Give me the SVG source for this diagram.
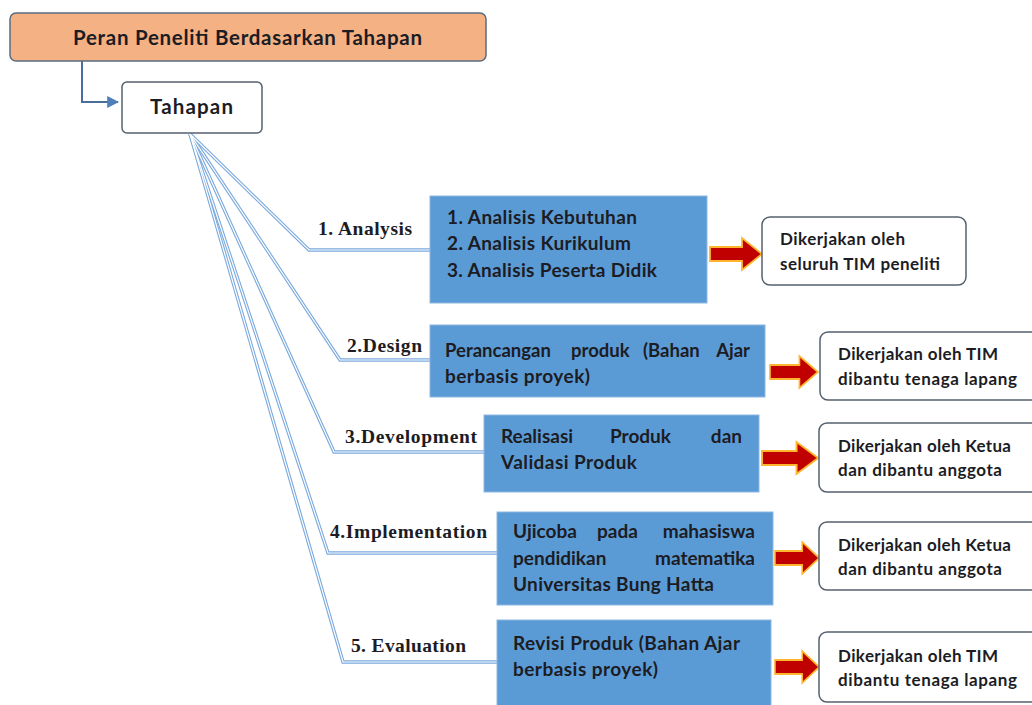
<svg xmlns="http://www.w3.org/2000/svg" width="1032" height="705" viewBox="0 0 1032 705">
<style>
.sans{font-family:Lato,"Open Sans","Liberation Sans",sans-serif;font-weight:bold;fill:#1c1c24}
.serif{font-family:"Liberation Serif","DejaVu Serif",serif;font-weight:bold;fill:#1c1c24;font-size:19.5px}
.blue{fill:#5B9BD5;stroke:#8DB6E2;stroke-width:1}
.wbox{fill:#ffffff;stroke:#55606E;stroke-width:1.5}
.fanOuter{fill:none;stroke:#7AA9DD;stroke-width:3.4}
.fanInner{fill:none;stroke:#ffffff;stroke-width:1.2}
.rarrow{fill:#C00000;stroke:#FFB52E;stroke-width:1.8;stroke-linejoin:miter}
.bt{font-size:19px}
.wt{font-size:17px}
</style>
<defs>
<marker id="ah" viewBox="0 0 10 10" refX="9" refY="5" markerWidth="6" markerHeight="6" orient="auto">
<path d="M0,0 L10,5 L0,10 z" fill="#4F7FB8"/>
</marker>
<path id="redArrow" d="M0,-7 L32,-7 L32,-16 L52,0 L32,16 L32,7 L0,7 z"/>
</defs>

<g id="connectors">
<path d="M82,61 L82,102 L118,102" fill="none" stroke="#4A6E9A" stroke-width="2" marker-end="url(#ah)"/>
<g class="fanOuter">
<path d="M190,134 L309,250 L430,250"/>
<path d="M190,134 L340,360 L430,360"/>
<path d="M190,134 L334,452 L484,452"/>
<path d="M190,134 L328,553 L497,553"/>
<path d="M190,134 L343,662 L497,662"/>
</g>
<g class="fanInner">
<path d="M190,134 L309,250 L430,250"/>
<path d="M190,134 L340,360 L430,360"/>
<path d="M190,134 L334,452 L484,452"/>
<path d="M190,134 L328,553 L497,553"/>
<path d="M190,134 L343,662 L497,662"/>
</g>
<use href="#redArrow" class="rarrow" transform="translate(710,254)"/>
<use href="#redArrow" class="rarrow" transform="translate(770,372) scale(0.92,1)"/>
<use href="#redArrow" class="rarrow" transform="translate(762,458) scale(1.08,1)"/>
<use href="#redArrow" class="rarrow" transform="translate(775,558) scale(0.85,1)"/>
<use href="#redArrow" class="rarrow" transform="translate(775,667) scale(0.85,1)"/>
</g>

<g id="title">
<rect x="10" y="13" width="476" height="48" rx="6" fill="#F4B183" stroke="#5A6B80" stroke-width="1.5"/>
<text class="sans" x="73" y="45" font-size="20.5" textLength="349" lengthAdjust="spacing">Peran Peneliti Berdasarkan Tahapan</text>
</g>

<g id="tahapan">
<rect x="122" y="82" width="140" height="51" rx="5" class="wbox"/>
<text class="sans" x="150" y="114" font-size="20.5" textLength="83" lengthAdjust="spacing">Tahapan</text>
</g>

<g id="lbl-analysis"><text class="serif" x="318" y="235" textLength="94" lengthAdjust="spacing">1. Analysis</text></g>
<g id="lbl-design"><text class="serif" x="347" y="352" textLength="75" lengthAdjust="spacing">2.Design</text></g>
<g id="lbl-development"><text class="serif" x="345" y="443" textLength="132" lengthAdjust="spacing">3.Development</text></g>
<g id="lbl-implementation"><text class="serif" x="330" y="538" textLength="157" lengthAdjust="spacing">4.Implementation</text></g>
<g id="lbl-evaluation"><text class="serif" x="351" y="652" textLength="115" lengthAdjust="spacing">5. Evaluation</text></g>

<g id="step1">
<rect x="430" y="196" width="277" height="107" class="blue"/>
<text class="sans bt" x="447" y="224" textLength="190" lengthAdjust="spacing">1. Analisis Kebutuhan</text>
<text class="sans bt" x="447" y="250" textLength="184" lengthAdjust="spacing">2. Analisis Kurikulum</text>
<text class="sans bt" x="447" y="277" textLength="210" lengthAdjust="spacing">3. Analisis Peserta Didik</text>
</g>
<g id="step2">
<rect x="430" y="325" width="335" height="72" class="blue"/>
<text class="sans" font-size="18.5" y="357"><tspan x="445">Perancangan</tspan><tspan x="571">produk</tspan><tspan x="643">(Bahan</tspan><tspan x="750" text-anchor="end">Ajar</tspan></text>
<text class="sans bt" x="445" y="383" textLength="145" lengthAdjust="spacing">berbasis proyek)</text>
</g>
<g id="step3">
<rect x="484" y="415" width="275" height="77" class="blue"/>
<text class="sans bt" y="443"><tspan x="501">Realisasi</tspan><tspan x="610">Produk</tspan><tspan x="742" text-anchor="end">dan</tspan></text>
<text class="sans bt" x="501" y="469" textLength="136" lengthAdjust="spacing">Validasi Produk</text>
</g>
<g id="step4">
<rect x="497" y="512" width="276" height="93" class="blue"/>
<text class="sans bt" y="538"><tspan x="513">Ujicoba</tspan><tspan x="597">pada</tspan><tspan x="755" text-anchor="end">mahasiswa</tspan></text>
<text class="sans bt" y="565"><tspan x="513">pendidikan</tspan><tspan x="755" text-anchor="end">matematika</tspan></text>
<text class="sans bt" x="513" y="591" textLength="201" lengthAdjust="spacing">Universitas Bung Hatta</text>
</g>
<g id="step5">
<rect x="497" y="620" width="274" height="90" class="blue"/>
<text class="sans bt" x="513" y="650" textLength="227" lengthAdjust="spacing">Revisi Produk (Bahan Ajar</text>
<text class="sans bt" x="513" y="676" textLength="145" lengthAdjust="spacing">berbasis proyek)</text>
</g>

<g id="role1">
<rect x="762" y="217" width="204" height="68" rx="8" class="wbox"/>
<text class="sans wt" x="780" y="245" textLength="125" lengthAdjust="spacing">Dikerjakan oleh</text>
<text class="sans wt" x="780" y="270" textLength="160" lengthAdjust="spacing">seluruh TIM peneliti</text>
</g>
<g id="role2">
<rect x="820" y="332" width="222" height="68" rx="8" class="wbox"/>
<text class="sans wt" x="838" y="360" textLength="160" lengthAdjust="spacing">Dikerjakan oleh TIM</text>
<text class="sans wt" x="838" y="385" textLength="179" lengthAdjust="spacing">dibantu tenaga lapang</text>
</g>
<g id="role3">
<rect x="819" y="423" width="223" height="69" rx="8" class="wbox"/>
<text class="sans wt" x="838" y="452" textLength="173" lengthAdjust="spacing">Dikerjakan oleh Ketua</text>
<text class="sans wt" x="838" y="476" textLength="164" lengthAdjust="spacing">dan dibantu anggota</text>
</g>
<g id="role4">
<rect x="819" y="522" width="223" height="68" rx="8" class="wbox"/>
<text class="sans wt" x="838" y="551" textLength="173" lengthAdjust="spacing">Dikerjakan oleh Ketua</text>
<text class="sans wt" x="838" y="575" textLength="164" lengthAdjust="spacing">dan dibantu anggota</text>
</g>
<g id="role5">
<rect x="819" y="632" width="223" height="70" rx="8" class="wbox"/>
<text class="sans wt" x="838" y="662" textLength="160" lengthAdjust="spacing">Dikerjakan oleh TIM</text>
<text class="sans wt" x="838" y="686" textLength="179" lengthAdjust="spacing">dibantu tenaga lapang</text>
</g>
</svg>
